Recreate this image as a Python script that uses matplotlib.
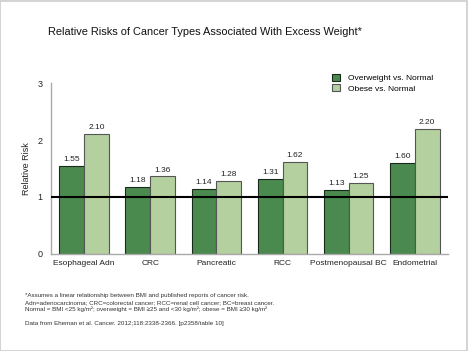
import numpy as np
import matplotlib.pyplot as plt
from matplotlib.patches import Rectangle

plt.rcParams['font.family'] = ['Liberation Sans', 'DejaVu Sans']

cancers = ['Esophageal Adn', 'CRC', 'Pancreatic', 'RCC', 'Postmenopausal BC', 'Endometrial']
overweight = [1.55, 1.18, 1.14, 1.31, 1.13, 1.60]
obese = [2.10, 1.36, 1.28, 1.62, 1.25, 2.20]
series_names = ['Overweight vs. Normal', 'Obese vs. Normal']

dark = '#4b8a4e'
light = '#b4d09f'

fig = plt.figure(figsize=(4.68, 3.51), dpi=100)
fig.patches.append(Rectangle((0.001, 0.001), 0.997, 0.996, transform=fig.transFigure,
                             fill=False, edgecolor='#cccccc', linewidth=1.2))

ax = fig.add_axes([0.109, 0.2764, 0.848, 0.4871])
x = np.arange(len(cancers))
w = 0.375
b1 = ax.bar(x - w / 2, overweight, w, color=dark, edgecolor='#1a2a1a', linewidth=0.8,
            label=series_names[0])
b2 = ax.bar(x + w / 2, obese, w, color=light, edgecolor='#555555', linewidth=0.8,
            label=series_names[1])

for bars, vals in [(b1, overweight), (b2, obese)]:
    for r, v in zip(bars, vals):
        ax.text(r.get_x() + r.get_width() / 2, v + 0.05, f'{v:.2f}', ha='center', va='bottom',
                fontsize=6, color='#222222')

ax.axhline(1, color='black', linewidth=1.5, zorder=5)

ax.set_xlim(-0.5, len(cancers) - 0.5)
ax.set_ylim(0, 3)
ax.set_yticks([0, 1, 2, 3])
ax.set_xticks(x)
ax.set_xticklabels(cancers, fontsize=6, color='#222222')
ax.tick_params(axis='y', labelsize=6.5, colors='#222222', length=0, pad=6)
ax.tick_params(axis='x', length=0, pad=4)
for s in ['top', 'right']:
    ax.spines[s].set_visible(False)
for s in ['left', 'bottom']:
    ax.spines[s].set_color('#aaaaaa')
    ax.spines[s].set_linewidth(1.0)
ax.set_ylabel('Relative Risk', fontsize=6.5, color='#222222', labelpad=5)

ax.legend(loc='upper left', bbox_to_anchor=(0.7, 1.075), frameon=False, fontsize=6.0,
          handlelength=0.95, handleheight=0.95, handletextpad=0.9, labelspacing=0.25,
          borderaxespad=0)

fig.text(0.103, 0.91, 'Relative Risks of Cancer Types Associated With Excess Weight*',
         fontsize=7.9, va='center', color='#111111')

notes = ['*Assumes a linear relationship between BMI and published reports of cancer risk.',
         'Adn=adenocarcinoma; CRC=colorectal cancer; RCC=renal cell cancer; BC=breast cancer.',
         'Normal = BMI <25 kg/m²; overweight = BMI ≥25 and <30 kg/m²; obese = BMI ≥30 kg/m²']
for i, n in enumerate(notes):
    fig.text(0.053, 1 - (295 + i * 7.3) / 351, n, fontsize=4.5, va='center', color='#333333')
fig.text(0.053, 1 - 323 / 351, 'Data from Eheman et al. Cancer. 2012;118:2338-2366. [p2358/table 10]',
         fontsize=4.5, va='center', color='#333333')

fig.savefig('out.png', dpi=100)
